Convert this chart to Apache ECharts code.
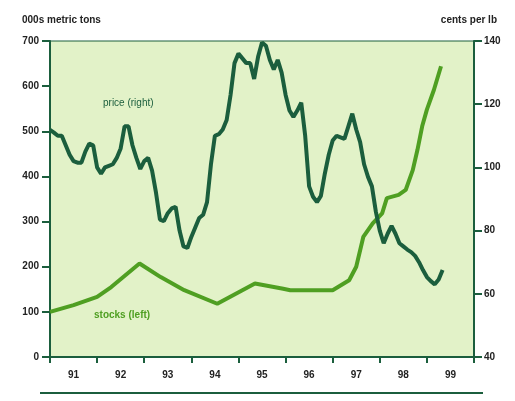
<!DOCTYPE html>
<html>
<head>
<meta charset="utf-8">
<script src="https://cdn.jsdelivr.net/npm/echarts@6/dist/echarts.min.js"></script>
<style>html,body{margin:0;padding:0;background:#fff;}#c{width:515px;height:401px;}</style>
</head>
<body>
<div id="c"></div>
<script>
// Year labels on the x axis
var yearLabels = ['91','92','93','94','95','96','97','98','99'];
var startYear = 1991;
// Price, cents per lb, monthly from Jan 1991 (right axis)
var priceMonthly = [
 111.9,111,110,110,107,104,102,101.5,101.5,105,107.5,107,
 100,98,100,100.5,101,103,106,113,113,107,103,99.5,
 102,103,99,92,83.5,83,85.5,87,87.5,80,75,74.5,
 78,81,84,85,89,101,110,110.5,112,115,123,133,
 136,134.5,133,133,128,135,139.5,138.5,134,131,134,130,
 123,118,116,118,120.5,110,94,90.7,89,91,98,104,
 108.5,110,109.5,109,113,117,112,108,101,97,94,86,
 80,76,79,81.5,79,76,75,74,73.2,72,70,67.5,
 65.3,64,63,64.5,67.5
];
// Stocks, 000s metric tons (left axis): dates in decimal years and values
var stockDates = [1991.0,1991.5,1992.0,1992.3,1992.9,1993.35,1993.85,1994.55,1995.35,1995.95,1996.1,1997.0,1997.35,1997.5,1997.65,1997.85,1998.05,1998.15,1998.4,1998.55,1998.7,1998.8,1998.9,1999.0,1999.15,1999.3];
var stockValues = [100,115,133,155,207,177,148,118,163,151,148,148,170,200,266,296,318,352,359,370,414,459,511,548,592,644];

var leftTicks = {min:0, max:700, interval:100};
var rightTicks = {min:40, max:140, interval:20};

var priceData = priceMonthly.map(function(v,i){return [startYear + i/12, v];});
var stockData = stockDates.map(function(d,i){return [d, stockValues[i]];});

var dark = '#1b5e3d';
var light = '#4f9f22';
var txt = '#222';
var font = 'Liberation Sans';

var chart = echarts.init(document.getElementById('c'));
chart.setOption({
  animation:false,
  backgroundColor:'#fff',
  title:[
    {text:'000s metric tons', left:17, top:10, textStyle:{fontSize:10, fontWeight:'bold', color:txt, fontFamily:font}},
    {text:'cents per lb', right:13, top:10, textStyle:{fontSize:10, fontWeight:'bold', color:txt, fontFamily:font}}
  ],
  grid:{left:50, right:41, top:41, bottom:44, show:true, backgroundColor:'#e2f2c8', borderColor:dark, borderWidth:1},
  xAxis:[
    {type:'value', min:startYear, max:startYear+9, interval:1, gridIndex:0,
     axisLine:{show:true, lineStyle:{color:dark, width:2}},
     axisTick:{show:true, length:6, lineStyle:{color:dark, width:2}},
     axisLabel:{show:false}, splitLine:{show:false}},
    {type:'category', data:yearLabels, boundaryGap:true, position:'bottom', gridIndex:0,
     axisLine:{show:false}, axisTick:{show:false},
     axisLabel:{color:txt, fontSize:10, fontWeight:'bold', margin:13, fontFamily:font}}
  ],
  yAxis:[
    {type:'value', min:leftTicks.min, max:leftTicks.max, interval:leftTicks.interval, position:'left',
     axisLine:{show:true, lineStyle:{color:dark, width:2}},
     axisTick:{show:true, length:8, lineStyle:{color:dark, width:2}},
     axisLabel:{color:txt, fontSize:10, fontWeight:'bold', margin:11, fontFamily:font},
     splitLine:{show:false}},
    {type:'value', min:rightTicks.min, max:rightTicks.max, interval:rightTicks.interval, position:'right',
     axisLine:{show:true, lineStyle:{color:dark, width:2}},
     axisTick:{show:true, length:8, lineStyle:{color:dark, width:2}},
     axisLabel:{color:txt, fontSize:10, fontWeight:'bold', margin:10, fontFamily:font},
     splitLine:{show:false}}
  ],
  series:[
    {type:'line', name:'stocks (left)', xAxisIndex:0, yAxisIndex:0, data:stockData, showSymbol:false,
     lineStyle:{color:light, width:4}, z:2},
    {type:'line', name:'price (right)', xAxisIndex:0, yAxisIndex:1, data:priceData, showSymbol:false,
     lineStyle:{color:dark, width:4}, z:3}
  ],
  graphic:[
    {type:'text', left:103, top:98, style:{text:'price (right)', fill:dark, font:'10px "Liberation Sans"'}},
    {type:'text', left:94, top:310, style:{text:'stocks (left)', fill:light, font:'bold 10px "Liberation Sans"'}},
    {type:'line', shape:{x1:40, y1:393, x2:483, y2:393}, style:{stroke:dark, lineWidth:2}}
  ]
});
</script>
</body>
</html>
